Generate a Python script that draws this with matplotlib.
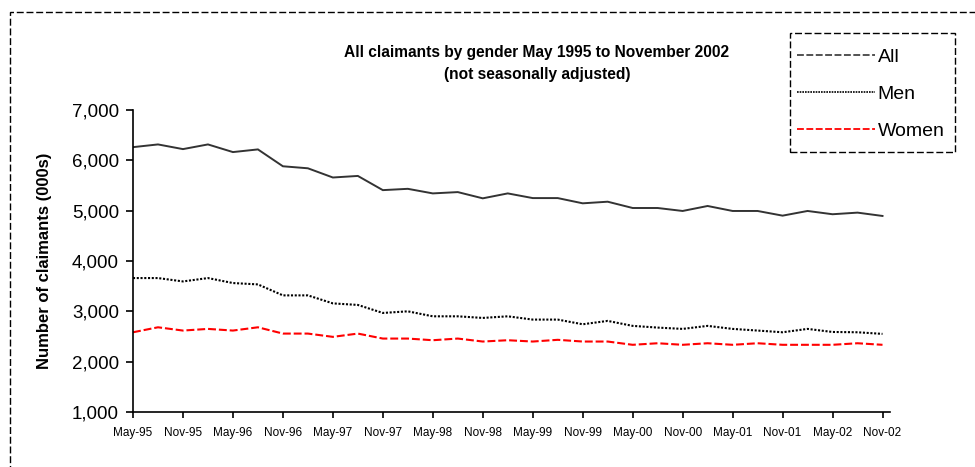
import matplotlib
matplotlib.use("Agg")
import matplotlib.pyplot as plt
from matplotlib.lines import Line2D
from matplotlib.patches import Rectangle
import numpy as np

plt.rcParams['font.family'] = ['Liberation Sans', 'DejaVu Sans']

# Quarterly data May-95 .. Nov-02 (thousands)
all_claimants = [6262, 6316, 6223, 6316, 6164, 6217, 5882, 5842, 5659, 5690,
                 5408, 5434, 5343, 5369, 5245, 5343, 5250, 5250, 5146, 5178,
                 5053, 5053, 4994, 5093, 4994, 4994, 4901, 4994, 4929, 4961, 4895]
men = [3661, 3661, 3594, 3661, 3562, 3535, 3317, 3317, 3158, 3127,
       2968, 3000, 2901, 2901, 2869, 2901, 2836, 2836, 2743, 2810,
       2711, 2677, 2651, 2711, 2651, 2618, 2584, 2651, 2590, 2584, 2552]
women = [2584, 2683, 2618, 2651, 2618, 2683, 2558, 2558, 2493, 2558,
         2459, 2459, 2426, 2459, 2400, 2426, 2400, 2434, 2400, 2400,
         2335, 2366, 2335, 2366, 2335, 2366, 2335, 2335, 2335, 2366, 2335]
tick_labels = ['May-95', 'Nov-95', 'May-96', 'Nov-96', 'May-97', 'Nov-97', 'May-98', 'Nov-98',
               'May-99', 'Nov-99', 'May-00', 'Nov-00', 'May-01', 'Nov-01', 'May-02', 'Nov-02']
series_names = ['All', 'Men', 'Women']

W, H = 975, 467
fig = plt.figure(figsize=(W / 100, H / 100), dpi=100)

# outer dashed frame (cropped on right / bottom)
fig.patches.append(Rectangle((10 / W, -0.1), 1.2, 1 - 12 / H + 0.1, transform=fig.transFigure,
                             fill=False, edgecolor='black', linewidth=1.0,
                             linestyle=(0, (5, 2)), zorder=0))

left, right, bottom, top = 133, 890, 412, 110
ax = fig.add_axes([left / W, 1 - bottom / H, (right - left) / W, (bottom - top) / H])

x = np.arange(len(all_claimants))
ax.plot(x, all_claimants, color='#333333', lw=1.4, solid_joinstyle='miter')
ax.plot(x, men, color='black', lw=1.5, linestyle=(0, (1, 0.8)))
ax.plot(x, women, color='#ff0000', lw=1.5, linestyle=(0, (3.8, 1.4)))

ax.set_xlim(0, 30.3)
ax.set_ylim(1000, 7000)
ax.set_yticks(np.arange(1000, 7001, 1000))
ax.set_yticklabels([f'{v:,}' for v in range(1000, 7001, 1000)], fontsize=13.5)
ax.set_xticks(np.arange(0, len(x), 2))
ax.set_xticklabels(tick_labels, fontsize=8.5)
for s in ['top', 'right']:
    ax.spines[s].set_visible(False)
for s in ['left', 'bottom']:
    ax.spines[s].set_linewidth(1.2)
ax.tick_params(axis='y', direction='out', length=5, width=1.2, pad=5)
ax.tick_params(axis='x', direction='out', length=4, width=1.2, pad=7)

fig.text(45 / W, 1 - 261 / H, 'Number of claimants (000s)', rotation=90, fontsize=12,
         fontweight='bold', ha='center', va='center')
fig.text(537 / W, 1 - 52 / H, 'All claimants by gender May 1995 to November 2002',
         fontsize=11.2, fontweight='bold', ha='center', va='center')
fig.text(537 / W, 1 - 75 / H, '(not seasonally adjusted)',
         fontsize=11.2, fontweight='bold', ha='center', va='center')

# legend frame
fig.patches.append(Rectangle((790 / W, 1 - 152 / H), 165 / W, 119 / H, transform=fig.transFigure,
                             fill=False, edgecolor='black', linewidth=1.0,
                             linestyle=(0, (5, 2)), zorder=3))
handles = [Line2D([], [], color='#444444', lw=1.3, linestyle=(0, (3.8, 1.4))),
           Line2D([], [], color='black', lw=1.2, linestyle=(0, (1, 0.6))),
           Line2D([], [], color='#ff0000', lw=1.3, linestyle=(0, (3.8, 1.4)))]
leg = fig.legend(handles, series_names, loc='upper left',
                 bbox_to_anchor=(797 / W, 1 - 48 / H), bbox_transform=fig.transFigure,
                 fontsize=14, frameon=False, borderaxespad=0, borderpad=0,
                 handlelength=4.0, handletextpad=0.15, labelspacing=1.0)

fig.savefig('out.png', dpi=100)
